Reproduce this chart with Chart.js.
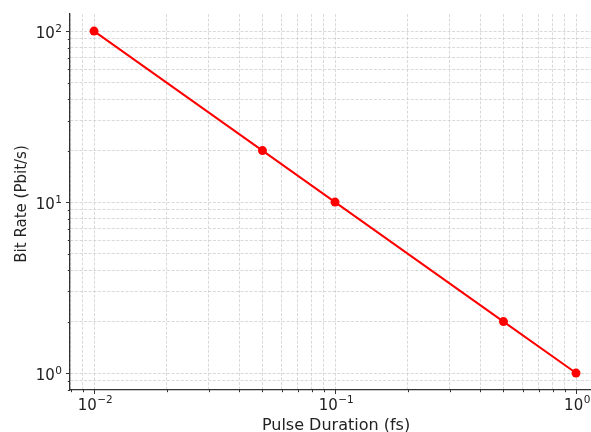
<!DOCTYPE html>
<html>
<head>
<meta charset="utf-8">
<script src="https://cdn.jsdelivr.net/npm/chart.js@4/dist/chart.umd.min.js"></script>
<style>
  html, body { margin: 0; padding: 0; background: #ffffff; }
  #wrap { width: 591px; height: 432px; position: relative; }
</style>
</head>
<body>
<div id="wrap"><canvas id="c" width="591" height="432"></canvas></div>
<script>
// Pulse duration (fs) versus achievable bit rate (Pbit/s)
const pulseDuration = [0.01, 0.05, 0.1, 0.5, 1];
const bitRate = [100, 20, 10, 2, 1];

// Visible axis ranges (log scale)
const xRange = [0.00795, 1.154];
const yRange = [0.796, 125.9];

const xTitle = 'Pulse Duration (fs)';
const yTitle = 'Bit Rate (Pbit/s)';

const FONT = '"DejaVu Sans", sans-serif';
const INK = '#222222';

// Ticks at 1..9 x 10^n inside the range, so every minor gridline is drawn
function logTicks(scale) {
  const out = [];
  const lo = Math.floor(Math.log10(scale.min));
  const hi = Math.ceil(Math.log10(scale.max));
  for (let e = lo; e <= hi; e++) {
    for (let m = 1; m <= 9; m++) {
      const v = parseFloat((m * Math.pow(10, e)).toPrecision(6));
      if (v >= scale.min && v <= scale.max) out.push({ value: v, major: m === 1 });
    }
  }
  scale.ticks = out;
}

function exponentOf(v) {
  const l = Math.log10(v);
  const e = Math.round(l);
  return Math.abs(l - e) < 1e-9 ? e : null;
}

// Draws power-of-ten labels as "10" with a raised exponent, tick marks and axis titles
const axisDecor = {
  id: 'axisDecor',
  afterDraw(chart) {
    const ctx = chart.ctx;
    const xs = chart.scales.x, ys = chart.scales.y;
    const area = chart.chartArea;
    ctx.save();
    ctx.strokeStyle = '#333333';
    ctx.lineWidth = 1;

    // tick marks (major longer than minor), pointing outward
    xs.ticks.forEach(t => {
      const px = Math.round(xs.getPixelForValue(t.value)) + 0.5;
      const len = t.major ? 4 : 2.2;
      ctx.beginPath();
      ctx.moveTo(px, area.bottom);
      ctx.lineTo(px, area.bottom + len);
      ctx.stroke();
    });
    ys.ticks.forEach(t => {
      const py = Math.round(ys.getPixelForValue(t.value)) + 0.5;
      const len = t.major ? 4 : 2.2;
      ctx.beginPath();
      ctx.moveTo(area.left, py);
      ctx.lineTo(area.left - len, py);
      ctx.stroke();
    });

    ctx.fillStyle = INK;
    const baseFont = '15px ' + FONT;
    const expFont = '10.5px ' + FONT;

    // x tick labels
    xs.ticks.forEach(t => {
      const e = exponentOf(t.value);
      if (e === null) return;
      const px = xs.getPixelForValue(t.value);
      const exp = String(e).replace('-', '\u2212');
      ctx.font = baseFont;
      const wb = ctx.measureText('10').width;
      ctx.font = expFont;
      const we = ctx.measureText(exp).width;
      const x0 = px - (wb + we) / 2 + 1;
      ctx.textAlign = 'left';
      ctx.textBaseline = 'alphabetic';
      ctx.font = baseFont;
      ctx.fillText('10', x0, 409.5);
      ctx.font = expFont;
      ctx.fillText(exp, x0 + wb + 0.5, 403);
    });

    // y tick labels
    ys.ticks.forEach(t => {
      const e = exponentOf(t.value);
      if (e === null) return;
      const py = ys.getPixelForValue(t.value);
      const exp = String(e).replace('-', '\u2212');
      ctx.font = expFont;
      const we = ctx.measureText(exp).width;
      const right = area.left - 8;
      ctx.textAlign = 'right';
      ctx.textBaseline = 'alphabetic';
      ctx.fillText(exp, right, py + 0.5);
      ctx.font = baseFont;
      ctx.fillText('10', right - we - 0.5, py + 7);
    });

    // axis titles
    ctx.font = '16px ' + FONT;
    ctx.textAlign = 'center';
    ctx.textBaseline = 'alphabetic';
    ctx.fillText(xTitle, 336, 430);

    ctx.translate(22, 204);
    ctx.rotate(-Math.PI / 2);
    ctx.font = '15px ' + FONT;
    ctx.textBaseline = 'middle';
    ctx.fillText(yTitle, 0, 0);
    ctx.restore();
  }
};

const gridStyle = {
  color: '#cfcfcf',
  lineWidth: 0.8,
  drawTicks: false
};

new Chart(document.getElementById('c'), {
  type: 'line',
  data: {
    datasets: [{
      data: pulseDuration.map((x, i) => ({ x: x, y: bitRate[i] })),
      borderColor: '#ff0000',
      backgroundColor: '#ff0000',
      borderWidth: 2,
      pointRadius: 4.5,
      pointHoverRadius: 4.5,
      pointBorderWidth: 0,
      tension: 0,
      fill: false,
      clip: false
    }]
  },
  options: {
    responsive: false,
    animation: false,
    layout: { autoPadding: false, padding: { left: 0, right: 0, top: 14, bottom: 0 } },
    plugins: { legend: { display: false }, tooltip: { enabled: false } },
    scales: {
      x: {
        type: 'logarithmic',
        min: xRange[0],
        max: xRange[1],
        afterBuildTicks: logTicks,
        afterFit: s => { s.height = 42; s.paddingLeft = 0; s.paddingRight = 0; },
        grid: gridStyle,
        border: { display: true, color: '#333333', width: 1.3, dash: [3, 1.6] },
        ticks: { display: false, autoSkip: false },
        title: { display: false }
      },
      y: {
        type: 'logarithmic',
        min: yRange[0],
        max: yRange[1],
        afterBuildTicks: logTicks,
        afterFit: s => { s.width = 70; s.paddingTop = 0; s.paddingBottom = 0; },
        grid: gridStyle,
        border: { display: true, color: '#333333', width: 1.3, dash: [3, 1.6] },
        ticks: { display: false, autoSkip: false },
        title: { display: false }
      }
    }
  },
  plugins: [axisDecor]
});
</script>
</body>
</html>
